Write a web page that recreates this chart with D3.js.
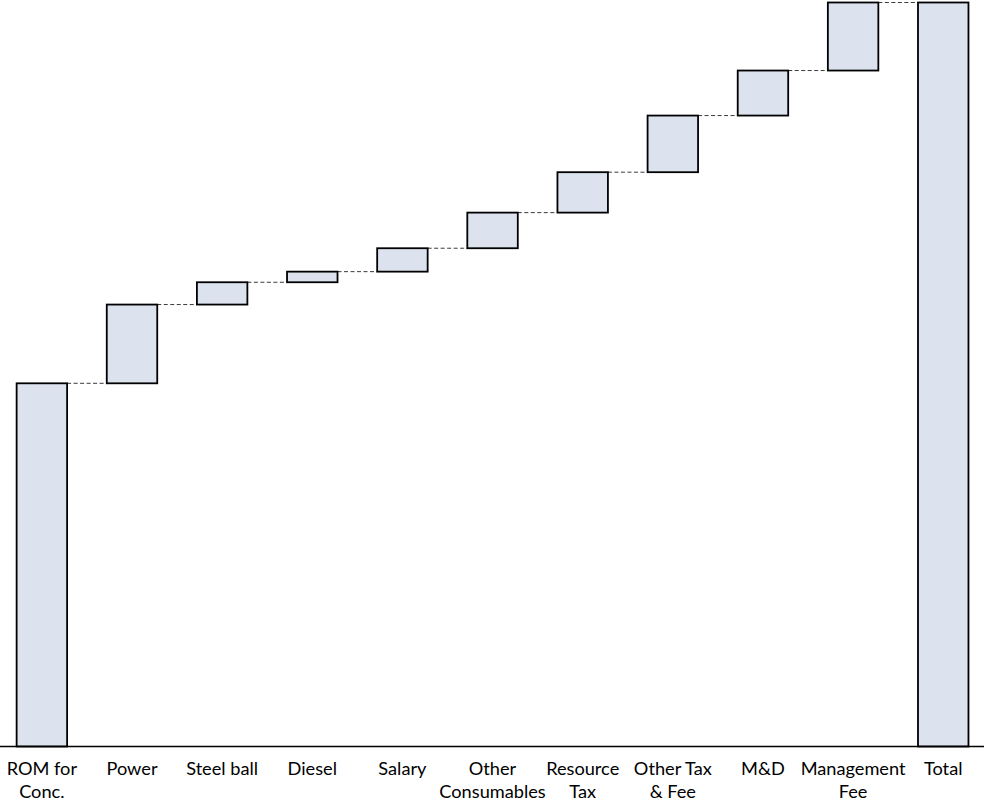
<!DOCTYPE html>
<html>
<head>
<meta charset="utf-8">
<script src="https://cdn.jsdelivr.net/npm/d3@7"></script>
<style>
  html, body { margin: 0; padding: 0; background: #fff; }
  svg { display: block; }
  text { font-family: Lato, "Open Sans", sans-serif; fill: #000; }
</style>
</head>
<body>
<svg id="chart" width="984" height="804"></svg>
<script>
const categories = ["ROM for Conc.", "Power", "Steel ball", "Diesel", "Salary",
  "Other Consumables", "Resource Tax", "Other Tax & Fee", "M&D", "Management Fee", "Total"];
const tickLabels = [["ROM for", "Conc."], ["Power"], ["Steel ball"], ["Diesel"], ["Salary"],
  ["Other", "Consumables"], ["Resource", "Tax"], ["Other Tax", "& Fee"], ["M&D"], ["Management", "Fee"], ["Total"]];
// increments (last entry is the total, computed as the sum of the preceding steps)
const steps = [36.3, 7.87, 2.23, 1.06, 2.34, 3.56, 4.04, 5.66, 4.50, 6.80];

const W = 984, H = 804;
const baseY = 746.5, topY = 2.5;
const svg = d3.select("#chart");

// build waterfall table
let cum = 0;
const rows = steps.map((v, i) => {
  const r = { cat: categories[i], start: cum, end: cum + v };
  cum += v;
  return r;
});
rows.push({ cat: categories[categories.length - 1], start: 0, end: cum, total: true });

const x = d3.scaleBand()
  .domain(categories)
  .range([-3.2, 988.3])
  .paddingInner(0.44)
  .paddingOuter(0.22);

const y = d3.scaleLinear()
  .domain([0, cum])
  .range([baseY, topY]);

// connectors
const conn = svg.append("g");
rows.slice(0, -1).forEach((r, i) => {
  const next = rows[i + 1];
  conn.append("line")
    .attr("x1", x(r.cat) + x.bandwidth())
    .attr("x2", x(next.cat))
    .attr("y1", y(r.end))
    .attr("y2", y(r.end))
    .attr("stroke", "#3a3a3a")
    .attr("stroke-width", 1)
    .attr("stroke-dasharray", "4,2.5");
});

// bars
svg.append("g").selectAll("rect")
  .data(rows)
  .join("rect")
  .attr("x", d => x(d.cat))
  .attr("width", x.bandwidth())
  .attr("y", d => y(d.end))
  .attr("height", d => y(d.start) - y(d.end))
  .attr("fill", "#dce3ee")
  .attr("stroke", "#000")
  .attr("stroke-width", 1.8);

// x axis
const axis = d3.axisBottom(x).tickSize(0).tickFormat("");
const gx = svg.append("g").attr("transform", `translate(0,${baseY})`).call(axis);
gx.select(".domain").remove();
gx.append("line").attr("x1", 0).attr("x2", W).attr("y1", 0).attr("y2", 0)
  .attr("stroke", "#000").attr("stroke-width", 1.5);

const lab = svg.append("g");
categories.forEach((c, i) => {
  const t = lab.append("text")
    .attr("x", x(c) + x.bandwidth() / 2)
    .attr("y", 775)
    .attr("text-anchor", "middle")
    .attr("font-size", 18.2);
  tickLabels[i].forEach((line, j) => {
    t.append("tspan")
      .attr("x", x(c) + x.bandwidth() / 2)
      .attr("dy", j === 0 ? 0 : 22.5)
      .text(line);
  });
});
</script>
</body>
</html>
